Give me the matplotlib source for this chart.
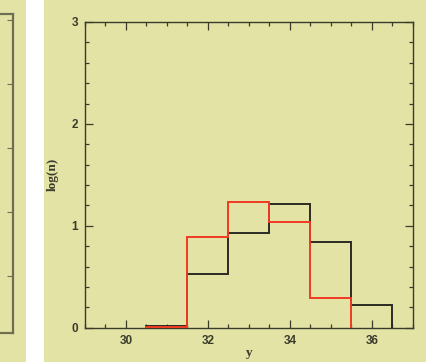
import matplotlib.pyplot as plt
from matplotlib.patches import Rectangle
from matplotlib.ticker import MultipleLocator

# log(n) per unit bin in y
edges_black = [30.5, 31.5, 32.5, 33.5, 34.5, 35.5, 36.5]
logn_black = [0.02, 0.53, 0.93, 1.21, 0.84, 0.22]
edges_red = [30.5, 31.5, 32.5, 33.5, 34.5, 35.5]
logn_red = [0.01, 0.89, 1.23, 1.035, 0.295]

bg = '#e4e3a6'
ink = '#3b3b2c'

fig = plt.figure(figsize=(4.26, 3.62), dpi=100, facecolor=bg)
fig.add_artist(Rectangle((26 / 426, 0), 18 / 426, 1, transform=fig.transFigure,
                         facecolor='white', edgecolor='none'))

# neighbouring panel, mostly off the page
left = fig.add_axes([-0.3, 29 / 362, 0.3 + 12.7 / 426, 319 / 362])
left.set_facecolor(bg)
for s in left.spines.values():
    s.set_color('#6e6e52')
    s.set_linewidth(1.6)
left.set_xticks([])
left.yaxis.tick_right()
left.set_ylim(0, 1)
left.set_yticks([0.18, 0.38, 0.58, 0.78, 0.98])
left.tick_params(axis='y', direction='in', length=4, color='#6e6e52', labelright=False)

ax = fig.add_axes([85 / 426, 34.3 / 362, 327.7 / 426, 305.7 / 362])
ax.set_facecolor(bg)

ax.stairs(logn_black, edges_black, baseline=0, fill=False, color='#2a2a22', lw=1.4, zorder=3)
ax.stairs(logn_red, edges_red, baseline=0, fill=False, color='#f03a22', lw=1.4, zorder=4)

ax.set_xlim(29, 37)
ax.set_ylim(0, 3)
ax.xaxis.set_major_locator(MultipleLocator(2))
ax.xaxis.set_minor_locator(MultipleLocator(0.5))
ax.yaxis.set_major_locator(MultipleLocator(1))
ax.yaxis.set_minor_locator(MultipleLocator(0.2))
ax.tick_params(which='both', direction='in', top=True, right=True, color=ink, width=0.9)
ax.tick_params(which='major', length=5.5, pad=5)
ax.tick_params(which='minor', length=2.7)
for s in ax.spines.values():
    s.set_color(ink)
    s.set_linewidth(1.0)

for lab in ax.get_xticklabels() + ax.get_yticklabels():
    lab.set_family('Liberation Sans')
    lab.set_fontweight('bold')
    lab.set_fontsize(8.5)
    lab.set_color(ink)

ax.set_xlabel('y', family='Liberation Serif', fontweight='bold', fontsize=9.5, color=ink, labelpad=0)
ax.set_ylabel('log(n)', family='Liberation Serif', fontweight='bold', fontsize=9.5, color=ink, labelpad=9)

fig.savefig('out.png', dpi=100, facecolor=bg)
